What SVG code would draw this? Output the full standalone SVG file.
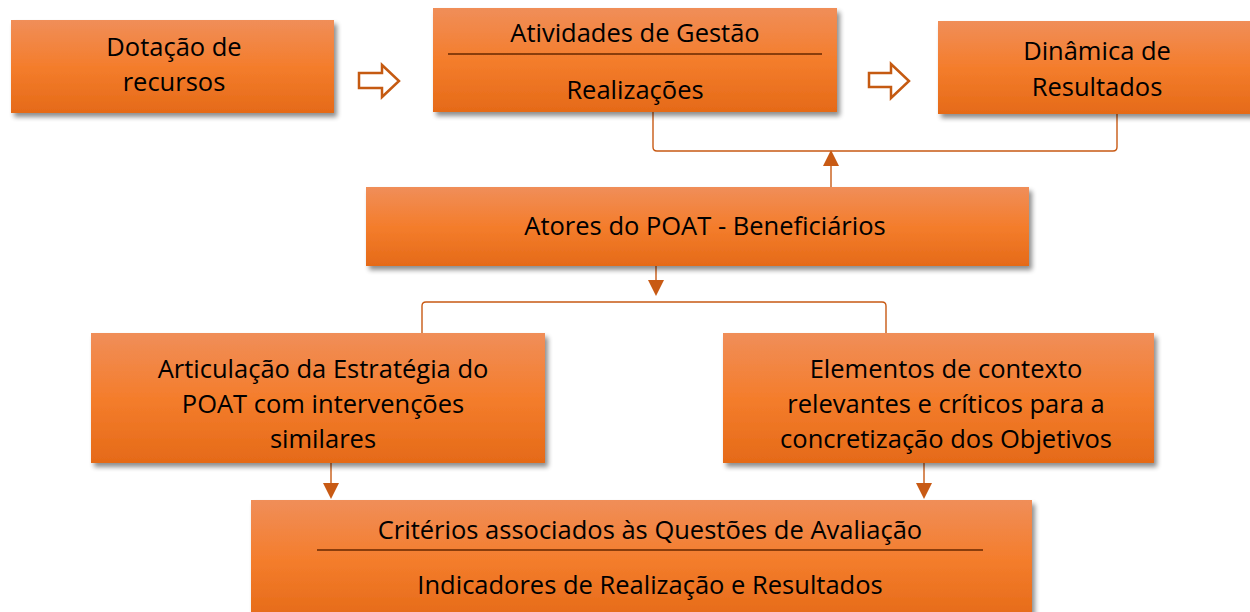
<svg xmlns="http://www.w3.org/2000/svg" width="1250" height="612" viewBox="0 0 1250 612">
<defs>
<linearGradient id="og" x1="0" y1="0" x2="0" y2="1">
<stop offset="0" stop-color="#F08E59"/>
<stop offset="0.5" stop-color="#F47D2C"/>
<stop offset="1" stop-color="#E56A18"/>
</linearGradient>
<filter id="sh" x="-10%" y="-10%" width="125%" height="140%">
<feGaussianBlur in="SourceAlpha" stdDeviation="2.5"/>
<feOffset dx="3" dy="4" result="b"/>
<feComponentTransfer><feFuncA type="linear" slope="0.45"/></feComponentTransfer>
<feMerge><feMergeNode/><feMergeNode in="SourceGraphic"/></feMerge>
</filter>
</defs>
<style>
.box{fill:url(#og);filter:url(#sh);}
.t{font-family:"Open Sans","Liberation Sans",sans-serif;font-size:25.5px;fill:#000;text-anchor:middle;}
.sep{stroke:#8A3D0C;stroke-width:2;}
.con{fill:none;stroke:#C85A14;stroke-width:1.4;}
.ah{fill:#C85A14;}
.hol{fill:#fff;stroke:#C55A11;stroke-width:2.5;stroke-linejoin:miter;}
</style>
<rect width="1250" height="612" fill="#fff"/>

<g id="connectors">
<path class="con" d="M653,112 L653,147 Q653,151 657,151 L1113,151 Q1117,151 1117,147 L1117,114"/>
<line class="con" x1="831" y1="187" x2="831" y2="164"/>
<polygon class="ah" points="831,150 823,166 839,166"/>
<line class="con" x1="656" y1="266" x2="656" y2="282"/>
<polygon class="ah" points="656,296 648,280 664,280"/>
<path class="con" d="M422,333 L422,306 Q422,302 426,302 L882,302 Q886,302 886,306 L886,333"/>
<line class="con" x1="331" y1="463" x2="331" y2="485"/>
<polygon class="ah" points="331,499 323,483 339,483"/>
<line class="con" x1="924" y1="463" x2="924" y2="485"/>
<polygon class="ah" points="924,499 916,483 932,483"/>
<polygon class="hol" points="359,73 382,73 382,65 399,81 382,97 382,88 359,88"/>
<polygon class="hol" points="869,73 891,73 891,64 909,81 891,98 891,87 869,87"/>
</g>

<g id="n-dotacao">
<rect class="box" x="11" y="20" width="323" height="93"/>
<text class="t" x="174" y="56">Dotação de</text>
<text class="t" x="174" y="91">recursos</text>
</g>

<g id="n-atividades">
<rect class="box" x="433" y="8" width="404" height="104"/>
<text class="t" x="635" y="42">Atividades de Gestão</text>
<line class="sep" x1="448" y1="54" x2="822" y2="54"/>
<text class="t" x="635" y="99">Realizações</text>
</g>

<g id="n-dinamica">
<rect class="box" x="938" y="21" width="320" height="93"/>
<text class="t" x="1097" y="60">Dinâmica de</text>
<text class="t" x="1097" y="96">Resultados</text>
</g>

<g id="n-atores">
<rect class="box" x="366" y="187" width="663" height="79"/>
<text class="t" x="705" y="235">Atores do POAT - Beneficiários</text>
</g>

<g id="n-articulacao">
<rect class="box" x="91" y="333" width="454" height="130"/>
<text class="t" x="323" y="378">Articulação da Estratégia do</text>
<text class="t" x="323" y="413">POAT com intervenções</text>
<text class="t" x="323" y="448">similares</text>
</g>

<g id="n-elementos">
<rect class="box" x="723" y="333" width="431" height="130"/>
<text class="t" x="946" y="378">Elementos de contexto</text>
<text class="t" x="946" y="413">relevantes e críticos para a</text>
<text class="t" x="946" y="448">concretização dos Objetivos</text>
</g>

<g id="n-criterios">
<rect class="box" x="251" y="500" width="781" height="120"/>
<text class="t" x="650" y="539">Critérios associados às Questões de Avaliação</text>
<line class="sep" x1="317" y1="550" x2="983" y2="550"/>
<text class="t" x="650" y="594">Indicadores de Realização e Resultados</text>
</g>
</svg>
